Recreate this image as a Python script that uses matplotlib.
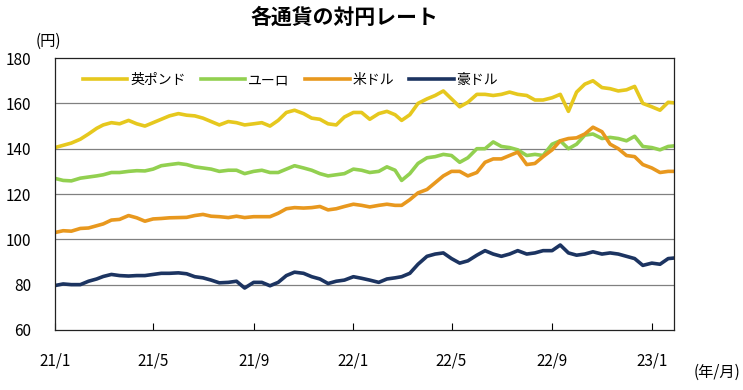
import matplotlib
matplotlib.use("Agg")
import matplotlib.pyplot as plt
import pandas as pd

plt.rcParams["font.family"] = ["Noto Sans CJK JP", "DejaVu Sans"]

# 読み取り日 (概ね 1日・11日・21日)
dates = [
    "2021-01-01", "2021-01-11", "2021-01-21", "2021-02-01", "2021-02-11", "2021-02-21",
    "2021-03-01", "2021-03-11", "2021-03-21", "2021-04-01", "2021-04-11", "2021-04-21",
    "2021-05-01", "2021-05-11", "2021-05-21", "2021-06-01", "2021-06-11", "2021-06-21",
    "2021-07-01", "2021-07-11", "2021-07-21", "2021-08-01", "2021-08-11", "2021-08-21",
    "2021-09-01", "2021-09-11", "2021-09-21", "2021-10-01", "2021-10-11", "2021-10-21",
    "2021-11-01", "2021-11-11", "2021-11-21", "2021-12-01", "2021-12-11", "2021-12-21",
    "2022-01-01", "2022-01-11", "2022-01-21", "2022-02-01", "2022-02-11", "2022-02-21",
    "2022-03-01", "2022-03-11", "2022-03-21", "2022-04-01", "2022-04-11", "2022-04-21",
    "2022-05-01", "2022-05-11", "2022-05-21", "2022-06-01", "2022-06-11", "2022-06-21",
    "2022-07-01", "2022-07-11", "2022-07-21", "2022-08-01", "2022-08-11", "2022-08-21",
    "2022-09-01", "2022-09-11", "2022-09-21", "2022-10-01", "2022-10-11", "2022-10-21",
    "2022-11-01", "2022-11-11", "2022-11-21", "2022-12-01", "2022-12-11", "2022-12-21",
    "2023-01-01", "2023-01-11", "2023-01-21", "2023-01-27",
]

gbp = [140.5, 141.5, 142.5, 144.2, 146.5, 149.0, 150.5, 151.5, 151.0, 152.5, 151.0, 150.0,
       151.5, 153.0, 154.5, 155.5, 154.8, 154.5, 153.5, 152.0, 150.5, 152.0, 151.5, 150.5,
       151.0, 151.5, 150.0, 152.5, 156.0, 157.0, 155.5, 153.5, 153.0, 151.0, 150.5, 154.0,
       156.0, 156.0, 153.0, 155.5, 156.5, 155.0, 152.5, 155.0, 160.0, 162.0, 163.5, 165.5,
       162.0, 158.5, 160.5, 164.0, 164.0, 163.5, 164.0, 165.0, 164.0, 163.5, 161.5, 161.5,
       162.5, 164.0, 156.5, 165.0, 168.5, 170.0, 167.0, 166.5, 165.5, 166.0, 167.5, 160.0,
       158.5, 157.0, 160.5, 160.3]
eur = [126.9, 126.0, 125.8, 127.0, 127.5, 128.0, 128.5, 129.5, 129.5, 130.0, 130.3, 130.2,
       131.0, 132.5, 133.0, 133.5, 133.0, 132.0, 131.5, 131.0, 130.0, 130.5, 130.5, 129.0,
       130.0, 130.5, 129.5, 129.5, 131.0, 132.5, 131.5, 130.5, 129.0, 128.0, 128.5, 129.0,
       131.0, 130.5, 129.5, 130.0, 132.0, 130.5, 126.0, 129.0, 133.5, 136.0, 136.5, 137.5,
       137.0, 134.0, 136.0, 140.0, 140.0, 143.0, 141.0, 140.5, 139.5, 137.0, 137.5, 137.0,
       142.0, 143.5, 140.0, 142.0, 146.0, 146.5, 144.5, 145.0, 144.5, 143.5, 145.5, 141.0,
       140.5, 139.5, 141.0, 141.2]
usd = [103.0, 103.8, 103.6, 104.8, 105.0, 106.0, 106.8, 108.5, 108.8, 110.5, 109.5, 108.0,
       109.0, 109.2, 109.5, 109.6, 109.7, 110.5, 111.0, 110.2, 110.0, 109.6, 110.2, 109.6,
       110.0, 110.0, 110.0, 111.5, 113.5, 114.0, 113.8, 114.0, 114.5, 113.0, 113.5, 114.5,
       115.5, 115.0, 114.3, 115.0, 115.5, 115.0, 115.0, 117.5, 120.5, 122.0, 125.0, 128.0,
       130.0, 130.0, 128.0, 129.5, 134.0, 135.5, 135.5, 137.0, 138.5, 133.0, 133.5, 136.5,
       139.5, 143.5, 144.5, 144.8, 146.5, 149.5, 147.5, 142.0, 140.0, 137.0, 136.5, 133.0,
       131.5, 129.5, 130.0, 130.0]
aud = [79.6, 80.3, 80.0, 80.0, 81.5, 82.5, 83.6, 84.5, 84.0, 83.8, 84.0, 84.0,
       84.5, 85.0, 85.0, 85.2, 84.8, 83.5, 83.0, 82.0, 80.8, 81.0, 81.5, 78.5,
       81.0, 81.0, 79.5, 81.0, 84.0, 85.5, 85.0, 83.5, 82.5, 80.5, 81.5, 82.0,
       83.5, 82.8, 82.0, 81.0, 82.5, 83.0, 83.5, 85.0, 89.0, 92.5, 93.5, 94.0,
       91.5, 89.5, 90.5, 93.0, 95.0, 93.5, 92.5, 93.5, 95.0, 93.5, 94.0, 95.0,
       95.0, 97.5, 94.0, 93.0, 93.5, 94.5, 93.5, 94.0, 93.5, 92.5, 91.5, 88.5,
       89.5, 89.0, 91.5, 91.7]

names = ["英ポンド", "ユーロ", "米ドル", "豪ドル"]
colors = ["#E6C81E", "#92D050", "#E8981E", "#1C3461"]
tick_dates = ["2021-01-01", "2021-05-01", "2021-09-01", "2022-01-01",
              "2022-05-01", "2022-09-01", "2023-01-01"]
tick_labels = ["21/1", "21/5", "21/9", "22/1", "22/5", "22/9", "23/1"]

x = pd.to_datetime(dates)
fig = plt.figure(figsize=(7.43, 3.90), dpi=100)
ax = fig.add_axes([0.074, 0.154, 0.833, 0.697])

for vals, name, c in zip([gbp, eur, usd, aud], names, colors):
    ax.plot(x, vals, color=c, lw=2.6, label=name, solid_joinstyle="round")

ax.set_ylim(60, 180)
ax.set_yticks(range(60, 181, 20))
ax.set_xlim(pd.Timestamp("2021-01-01"), pd.Timestamp("2023-01-28"))
ax.set_xticks(pd.to_datetime(tick_dates))
ax.set_xticklabels(tick_labels)
for v in range(80, 180, 20):
    ax.axhline(v, color="#808080", lw=0.9, zorder=0)

ax.tick_params(axis="x", direction="in", length=5, pad=16, labelsize=11)
ax.tick_params(axis="y", length=0, pad=17, labelsize=11)
for s in ax.spines.values():
    s.set_color("#222222")
    s.set_linewidth(0.9)

ax.legend(loc="upper left", bbox_to_anchor=(0.025, 0.99), ncol=4, frameon=False,
          handlelength=3.2, handletextpad=0.2, columnspacing=1.1, fontsize=10)

fig.text(0.463, 0.955, "各通貨の対円レート", ha="center", va="center",
         fontsize=15, fontweight="bold")
fig.text(0.065, 0.895, "(円)", ha="center", va="center", fontsize=11)
fig.text(0.965, 0.045, "(年/月)", ha="center", va="center", fontsize=11)

fig.savefig("out.png", dpi=100)
